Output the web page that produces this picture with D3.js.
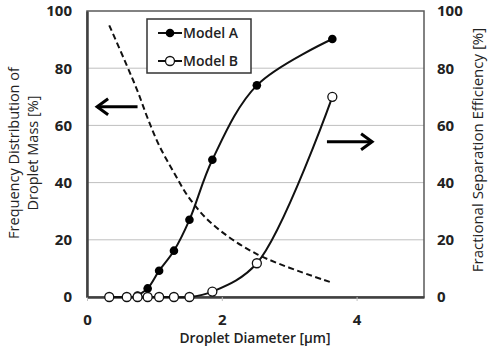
<!DOCTYPE html>
<html><head><meta charset="utf-8">
<script src="https://cdn.jsdelivr.net/npm/d3@7"></script>
<style>body{margin:0;background:#fff}svg{display:block}</style>
</head><body>
<script>
const diameters = [0.33, 0.59, 0.75, 0.90, 1.07, 1.29, 1.52, 1.86, 2.52, 3.64];
const massDistribution = [95, 81, 72, 62.5, 53, 43.5, 34.5, 25.5, 15, 5];
const modelAX = [0.75, 0.90, 1.07, 1.29, 1.52, 1.86, 2.52, 3.64];
const modelA = [0.5, 3, 9.2, 16.2, 27, 48, 74, 90.2];
const modelB = [0, 0, 0, 0, 0, 0, 0, 1.9, 11.8, 70];
const yTicks = [0, 20, 40, 60, 80, 100];
const xTicks = [0, 2, 4];
const seriesNames = ["Model A", "Model B"];

const W = 488, H = 351;
const svg = d3.select("body").append("svg").attr("width", W).attr("height", H);
const x = d3.scaleLinear().domain([0, 5]).range([87, 424]);
const yL = d3.scaleLinear().domain([0, 100]).range([297, 11]);
const yR = d3.scaleLinear().domain([0, 100]).range([297, 11]);
const tickFont = "'Open Sans', sans-serif";

// gridlines
svg.append("g").selectAll("line").data(yTicks.filter(d => d > 0 && d < 100)).join("line")
  .attr("x1", x(0)).attr("x2", x(5)).attr("y1", d => yL(d)).attr("y2", d => yL(d))
  .attr("stroke", "#bfbfbf").attr("stroke-width", 1);

// plot border
svg.append("rect").attr("x", x(0)).attr("y", yL(100)).attr("width", x(5) - x(0)).attr("height", yL(0) - yL(100))
  .attr("fill", "none").attr("stroke", "#595959").attr("stroke-width", 1.5);

// bottom axis
const xAxis = d3.axisBottom(x).tickValues(xTicks).tickFormat(d3.format("d")).tickSize(4).tickSizeOuter(0).tickPadding(13);
const gx = svg.append("g").attr("transform", `translate(0,${yL(0)})`).call(xAxis);
gx.select(".domain").attr("stroke", "#404040").attr("stroke-width", 2.5);
gx.selectAll(".tick line").attr("stroke", "#bfbfbf");
gx.selectAll("text").attr("font-family", tickFont).attr("font-weight", "bold").attr("font-size", 15).attr("fill", "#222");

// left axis
const yAxisL = d3.axisLeft(yL).tickValues(yTicks).tickFormat(d3.format("d")).tickSize(0).tickPadding(15);
const gyl = svg.append("g").attr("transform", `translate(${x(0)},0)`).call(yAxisL);
gyl.select(".domain").attr("stroke", "#404040").attr("stroke-width", 2.5);
gyl.selectAll("text").attr("font-family", tickFont).attr("font-weight", "bold").attr("font-size", 15).attr("fill", "#222");

// right axis
const yAxisR = d3.axisRight(yR).tickValues(yTicks).tickFormat(d3.format("d")).tickSize(0).tickPadding(13);
const gyr = svg.append("g").attr("transform", `translate(${x(5)},0)`).call(yAxisR);
gyr.select(".domain").attr("stroke", "none");
gyr.selectAll("text").attr("font-family", tickFont).attr("font-weight", "bold").attr("font-size", 15).attr("fill", "#222");

// axis titles
svg.append("text").attr("transform", "translate(19,153) rotate(-90)").attr("text-anchor", "middle")
  .attr("font-family", tickFont).attr("font-size", 14.5).attr("fill", "#222").text("Frequency Distribution of");
svg.append("text").attr("transform", "translate(38,153) rotate(-90)").attr("text-anchor", "middle")
  .attr("font-family", tickFont).attr("font-size", 14.5).attr("fill", "#222").text("Droplet Mass [%]");
svg.append("text").attr("transform", "translate(483,150) rotate(-90)").attr("text-anchor", "middle")
  .attr("font-family", tickFont).attr("font-size", 15).attr("fill", "#222").text("Fractional Separation Efficiency [%]");
svg.append("text").attr("x", 255).attr("y", 343).attr("text-anchor", "middle")
  .attr("font-family", tickFont).attr("font-weight", 600).attr("font-size", 13.8).attr("fill", "#222").text("Droplet Diameter [μm]");

// lines
const curve = d3.curveCatmullRom.alpha(0.5);
const lineL = d3.line().x(d => x(d[0])).y(d => yL(d[1])).curve(curve);
const lineR = d3.line().x(d => x(d[0])).y(d => yR(d[1])).curve(curve);

const distData = diameters.map((d, i) => [d, massDistribution[i]]);
const aData = modelAX.map((d, i) => [d, modelA[i]]);
const bData = diameters.map((d, i) => [d, modelB[i]]);

svg.append("path").attr("d", lineL(distData)).attr("fill", "none").attr("stroke", "#111")
  .attr("stroke-width", 2).attr("stroke-dasharray", "6,3.5");
svg.append("path").attr("d", lineR(bData)).attr("fill", "none").attr("stroke", "#111").attr("stroke-width", 2);
svg.append("path").attr("d", lineR(aData)).attr("fill", "none").attr("stroke", "#111").attr("stroke-width", 2);

svg.append("g").selectAll("circle").data(aData).join("circle")
  .attr("cx", d => x(d[0])).attr("cy", d => yR(d[1])).attr("r", 4.3).attr("fill", "#000");
svg.append("g").selectAll("circle").data(bData).join("circle")
  .attr("cx", d => x(d[0])).attr("cy", d => yR(d[1])).attr("r", 4.5).attr("fill", "#fff")
  .attr("stroke", "#111").attr("stroke-width", 1.3);

// arrows (annotation, data coordinates)
function arrow(x0, x1, yv) {
  const xa = x(x0), xb = x(x1), yy = yL(yv);
  const dir = Math.sign(xb - xa);
  svg.append("line").attr("x1", xa).attr("x2", xb).attr("y1", yy).attr("y2", yy)
    .attr("stroke", "#000").attr("stroke-width", 3);
  svg.append("path").attr("d", `M${xb - dir * 11},${yy - 8}L${xb},${yy}L${xb - dir * 11},${yy + 8}`)
    .attr("fill", "none").attr("stroke", "#000").attr("stroke-width", 3).attr("stroke-linejoin", "miter");
}
arrow(0.75, 0.15, 66.5);
arrow(3.56, 4.23, 54.3);

// legend
const lg = svg.append("g");
lg.append("rect").attr("x", 147).attr("y", 19).attr("width", 104).attr("height", 54)
  .attr("fill", "#fff").attr("stroke", "#333").attr("stroke-width", 1.5);
seriesNames.forEach((name, i) => {
  const yy = 33 + i * 28;
  lg.append("line").attr("x1", 158).attr("x2", 182).attr("y1", yy).attr("y2", yy).attr("stroke", "#111").attr("stroke-width", 2);
  lg.append("circle").attr("cx", 170).attr("cy", yy).attr("r", i === 0 ? 4.3 : 4.5)
    .attr("fill", i === 0 ? "#000" : "#fff").attr("stroke", "#111").attr("stroke-width", i === 0 ? 0 : 1.3);
  lg.append("text").attr("x", 183).attr("y", yy).attr("dy", "0.35em")
    .attr("font-family", tickFont).attr("font-weight", 600).attr("font-size", 14).attr("fill", "#222").text(name);
});
</script>
</body></html>
